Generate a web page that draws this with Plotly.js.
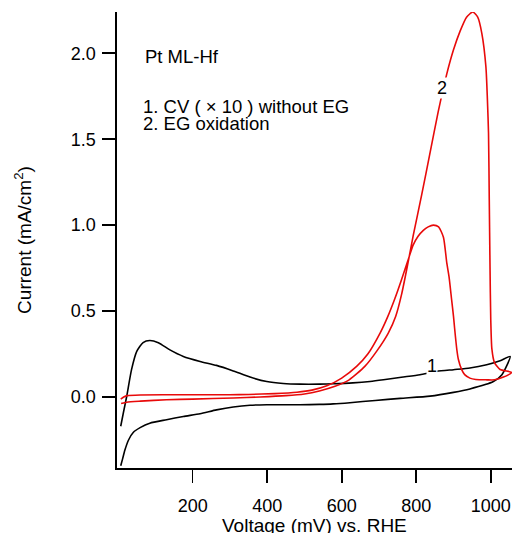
<!DOCTYPE html>
<html>
<head>
<meta charset="utf-8">
<script src="https://cdn.plot.ly/plotly-3.0.1.min.js"></script>
<style>html,body{margin:0;padding:0;background:#fff;}#chart{width:514px;height:533px;}</style>
</head>
<body>
<div id="chart"></div>
<script>
// Curve 1: CV (x10) without EG  (voltage in mV vs RHE, current in mA/cm2)
var cvVoltage = [7, 14, 23, 36, 50, 67, 85, 108, 139, 175, 220, 264, 309, 354, 399, 443, 488, 541, 577, 630, 676, 712, 760, 810, 855, 900, 944, 989, 1025, 1052,
                 1030, 1007, 944, 900, 837, 757, 690, 622, 577, 540, 488, 443, 399, 354, 309, 264, 220, 175, 130, 85, 59, 41, 28, 18, 12, 7];
var cvCurrent = [-0.17, -0.093, 0.003, 0.159, 0.265, 0.317, 0.329, 0.316, 0.274, 0.236, 0.207, 0.184, 0.152, 0.116, 0.09, 0.079, 0.075, 0.075, 0.077, 0.082, 0.09, 0.10, 0.115, 0.13, 0.149, 0.159, 0.169, 0.188, 0.211, 0.236,
                 0.13, 0.09, 0.047, 0.027, 0.005, -0.008, -0.02, -0.033, -0.04, -0.043, -0.045, -0.045, -0.045, -0.048, -0.058, -0.075, -0.097, -0.113, -0.132, -0.152, -0.178, -0.205, -0.25, -0.31, -0.36, -0.40];

// Curve 2: EG oxidation
var egVoltage = [8, 23, 60, 130, 200, 309, 381, 450, 500, 540, 582, 620, 662, 695, 725, 745, 761, 777, 792, 815, 837, 859, 882, 900, 918, 935, 952, 965, 976, 987, 991, 994, 996, 998, 1000, 1003, 1010, 1025, 1056,
                 1034, 1010, 989, 960, 944, 930, 922, 913, 909, 903, 900, 895, 888, 882, 873, 860, 846, 832, 819, 805, 792, 777, 760, 743, 723, 703, 670, 640, 600, 560, 520, 480, 420, 350, 300, 200, 130, 60, 25, 15, 7];
var egCurrent = [-0.038, -0.03, -0.024, -0.016, -0.012, -0.006, 0.0, 0.008, 0.018, 0.035, 0.062, 0.10, 0.178, 0.27, 0.372, 0.47, 0.60, 0.77, 0.94, 1.18, 1.42, 1.66, 1.88, 2.02, 2.13, 2.21, 2.24, 2.21, 2.116, 1.92, 1.73, 1.535, 1.147, 0.76, 0.45, 0.28, 0.2, 0.16, 0.143,
                 0.116, 0.10, 0.10, 0.102, 0.11, 0.13, 0.159, 0.22, 0.275, 0.40, 0.469, 0.566, 0.70, 0.78, 0.93, 0.99, 1.0, 0.99, 0.97, 0.935, 0.885, 0.79, 0.68, 0.575, 0.465, 0.372, 0.25, 0.178, 0.11, 0.065, 0.04, 0.028, 0.02, 0.015, 0.013, 0.013, 0.013, 0.012, 0.008, 0.0, -0.012];

var xTicks = [200, 400, 600, 800, 1000];
var xTickText = ['200', '400', '600', '800', '1000'];
var xTitle = 'Voltage (mV) vs. RHE';
var yTitle = 'Current (mA/cm<sup>2</sup>)';

var FONT = 'Arial, "Liberation Sans", sans-serif';

var traces = [
  {x: cvVoltage, y: cvCurrent, mode: 'lines', name: '1. CV (×10) without EG',
   line: {color: '#000000', width: 1.6, shape: 'spline', smoothing: 0.6}, hoverinfo: 'x+y'},
  {x: egVoltage, y: egCurrent, mode: 'lines', name: '2. EG oxidation',
   line: {color: 'rgb(232,10,10)', width: 1.6, shape: 'spline', smoothing: 0.6}, hoverinfo: 'x+y'}
];

var layout = {
  width: 514, height: 533,
  margin: {l: 117, r: 2, t: 12, b: 65},
  paper_bgcolor: '#ffffff', plot_bgcolor: '#ffffff',
  showlegend: false,
  font: {family: FONT, size: 18, color: '#000'},
  xaxis: {
    range: [-3, 1057], showgrid: false, zeroline: false,
    showline: true, linecolor: '#000', linewidth: 1.6,
    ticks: 'outside', ticklen: 13, tickwidth: 1.6, tickcolor: '#000',
    tickvals: xTicks, ticktext: xTickText, ticklabelstandoff: 8,
    tickfont: {family: FONT, size: 18, color: '#000'}
  },
  yaxis: {
    range: [-0.413, 2.24], showgrid: false, zeroline: false,
    showline: true, linecolor: '#000', linewidth: 1.6,
    ticks: 'outside', ticklen: 13, tickwidth: 1.6, tickcolor: '#000',
    dtick: 0.5, tick0: 0, tickformat: '.1f', ticklabelstandoff: 3,
    tickfont: {family: FONT, size: 18, color: '#000'},
    title: {text: yTitle, font: {family: FONT, size: 19, color: '#000'}, standoff: 34}
  },
  annotations: [
    {x: 0.5, y: -0.125, xref: 'paper', yref: 'paper', text: xTitle, showarrow: false, xanchor: 'center', yanchor: 'middle', font: {family: FONT, size: 19}},
    {x: 67, y: 1.98, xref: 'x', yref: 'y', text: 'Pt ML-Hf', showarrow: false, xanchor: 'left', yanchor: 'middle', font: {family: FONT, size: 18.5}},
    {x: 62, y: 1.688, xref: 'x', yref: 'y', text: '1. CV ( \u00d7 10 ) without EG', showarrow: false, xanchor: 'left', yanchor: 'middle', font: {family: FONT, size: 18.5}},
    {x: 62, y: 1.59, xref: 'x', yref: 'y', text: '2. EG oxidation', showarrow: false, xanchor: 'left', yanchor: 'middle', font: {family: FONT, size: 18.5}},
    {x: 868, y: 1.80, xref: 'x', yref: 'y', text: '2', showarrow: false, xanchor: 'center', yanchor: 'middle', bgcolor: '#ffffff', borderpad: 0, font: {family: FONT, size: 18}},
    {x: 842, y: 0.178, xref: 'x', yref: 'y', text: '1', showarrow: false, xanchor: 'center', yanchor: 'middle', bgcolor: '#ffffff', borderpad: 0, font: {family: FONT, size: 18}}
  ]
};

Plotly.newPlot('chart', traces, layout, {staticPlot: true, displayModeBar: false});
</script>
</body>
</html>
